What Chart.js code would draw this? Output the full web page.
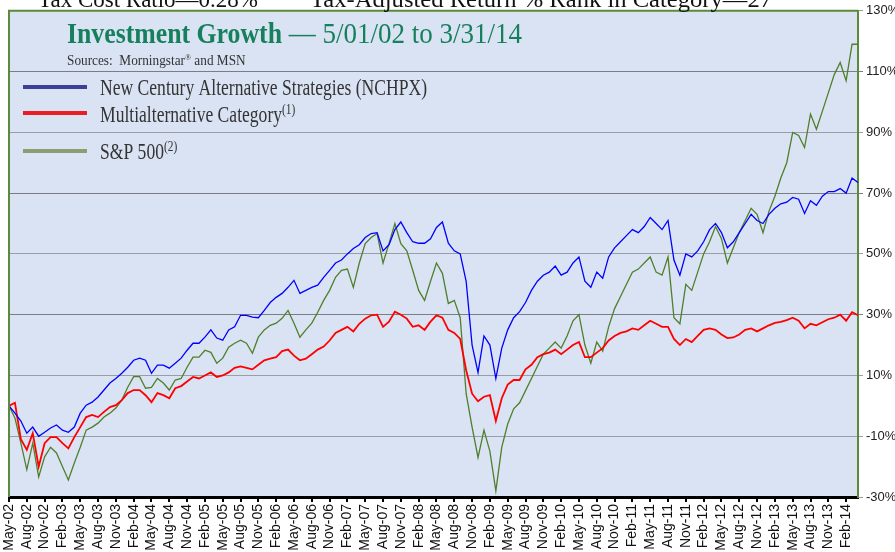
<!DOCTYPE html>
<html>
<head>
<meta charset="utf-8">
<script src="https://cdn.jsdelivr.net/npm/chart.js@4.4.1/dist/chart.umd.min.js"></script>
<style>
html, body { margin: 0; padding: 0; background: #fff; }
</style>
</head>
<body>
<canvas id="myChart" width="895" height="552"></canvas>
<script>
var months = [
  "May-02","Jun-02","Jul-02","Aug-02","Sep-02","Oct-02","Nov-02","Dec-02",
  "Jan-03","Feb-03","Mar-03","Apr-03","May-03","Jun-03","Jul-03","Aug-03","Sep-03","Oct-03","Nov-03","Dec-03",
  "Jan-04","Feb-04","Mar-04","Apr-04","May-04","Jun-04","Jul-04","Aug-04","Sep-04","Oct-04","Nov-04","Dec-04",
  "Jan-05","Feb-05","Mar-05","Apr-05","May-05","Jun-05","Jul-05","Aug-05","Sep-05","Oct-05","Nov-05","Dec-05",
  "Jan-06","Feb-06","Mar-06","Apr-06","May-06","Jun-06","Jul-06","Aug-06","Sep-06","Oct-06","Nov-06","Dec-06",
  "Jan-07","Feb-07","Mar-07","Apr-07","May-07","Jun-07","Jul-07","Aug-07","Sep-07","Oct-07","Nov-07","Dec-07",
  "Jan-08","Feb-08","Mar-08","Apr-08","May-08","Jun-08","Jul-08","Aug-08","Sep-08","Oct-08","Nov-08","Dec-08",
  "Jan-09","Feb-09","Mar-09","Apr-09","May-09","Jun-09","Jul-09","Aug-09","Sep-09","Oct-09","Nov-09","Dec-09",
  "Jan-10","Feb-10","Mar-10","Apr-10","May-10","Jun-10","Jul-10","Aug-10","Sep-10","Oct-10","Nov-10","Dec-10",
  "Jan-11","Feb-11","Mar-11","Apr-11","May-11","Jun-11","Jul-11","Aug-11","Sep-11","Oct-11","Nov-11","Dec-11",
  "Jan-12","Feb-12","Mar-12","Apr-12","May-12","Jun-12","Jul-12","Aug-12","Sep-12","Oct-12","Nov-12","Dec-12",
  "Jan-13","Feb-13","Mar-13","Apr-13","May-13","Jun-13","Jul-13","Aug-13","Sep-13","Oct-13","Nov-13","Dec-13",
  "Jan-14","Feb-14","Mar-14","Apr-14"
];

var seriesNames = ["New Century Alternative Strategies (NCHPX)", "Multialternative Category", "S&P 500"];

// cumulative growth, % since 5/01/02, read at the start of each month
var nchpx = [
  0, -2.4, -5, -9, -7, -10, -8.7, -7.3,
  -6.3, -8, -8.7, -7, -2.4, 0.2, 1.2, 2.9, 5.2, 7.5, 9, 10.7,
  12.7, 15, 15.7, 15, 10.7, 13.4, 13.4, 12.4, 14, 15.7, 18.3, 20.6,
  20.6, 22.6, 25, 22.3, 21.6, 25, 26, 29.8, 29.8, 29.2, 29, 31.4,
  34, 35.7, 37, 39, 41.3, 37, 38, 39, 39.7, 42.3, 44.6, 47,
  48, 50, 51.8, 53, 55.4, 56.7, 57, 51, 53, 58, 60.5, 57,
  54, 53.5, 53.5, 55, 58.7, 60.5, 53.5, 51, 50, 41, 20, 11,
  23, 20, 9, 19, 25, 29, 31, 34, 38, 41, 43, 44,
  46, 43, 44, 47, 49, 41, 39, 44, 42, 49, 52, 54,
  56, 58, 57, 59, 62, 60, 58, 61, 48, 43, 50, 49,
  51, 54, 58, 60, 57, 52, 54, 57, 60, 63, 61, 60,
  63, 65, 66.5, 67, 68.6, 68, 63.3, 67.5, 66, 69, 70.5, 70.5,
  71.5, 70, 75, 73.5
];

var multiAlt = [
  0, 1, -11, -14.5, -9, -20, -12.3, -10.3,
  -10.3, -12.3, -14, -10.3, -7, -3.7, -3, -3.7, -2, -0.4, 0.2, 1.9,
  4.2, 5.2, 5.2, 3.5, 1.2, 4.2, 3.5, 2.5, 5.8, 6.5, 8, 9.5,
  9, 10, 11, 9.5, 10, 11, 12.5, 13, 12.5, 12, 13.5, 15,
  15.5, 16, 18, 18.5, 16.5, 15, 15.5, 17, 18.5, 19.5, 21.5, 24,
  25, 26, 24.5, 27, 28.7, 29.8, 30, 26, 27.7, 31, 30, 28.7,
  26, 26.5, 25, 27.7, 29.8, 29, 25, 24, 22, 11.7, 4, 1.5,
  3, 3.5, -5, 2.5, 7, 8.5, 8.5, 12, 13.5, 16, 17, 17.5,
  18.5, 17, 18.5, 20, 21, 16, 16, 17.5, 19, 21.5, 23, 24,
  24.5, 25.5, 25, 26.5, 28, 27, 26, 26, 22, 20, 22, 21,
  23, 25, 25.5, 25, 23.5, 22.3, 22.5, 23.5, 25, 25.5, 24.5, 25.5,
  26.5, 27.3, 27.6, 28.2, 29, 28, 25.5, 27, 26.5, 27.5, 28.5, 29,
  30, 28, 30.8, 29.8
];

var sp500 = [
  0, -4, -12.3, -21, -12.3, -23.4, -16.8, -13.6,
  -15.5, -20, -24.4, -18.8, -13.6, -8, -7, -5.7, -3.7, -2.4, -0.7, 1.9,
  6.1, 9.6, 9.6, 5.8, 6.1, 9, 7.5, 5.2, 8.5, 9, 12.7, 16,
  16, 18.3, 17.6, 14, 15.7, 19.3, 20.6, 21.6, 20.6, 17.3, 22.6, 25,
  26.5, 27.2, 28.8, 31.4, 27.2, 22.6, 25, 27.2, 30.8, 34.7, 38, 42.3,
  44.6, 45, 39, 47, 53.4, 55.4, 56.7, 47, 53.4, 60, 53.4, 51,
  44.6, 38, 34.7, 41, 47, 43.6, 33.7, 34.7, 29, 4, -7, -17,
  -8, -15, -28, -13.6, -6, -1, 1, 5, 9, 13, 17, 19,
  21, 19, 23, 28, 30, 20, 14, 21, 18, 26, 32, 36,
  40, 44, 45, 47, 49, 44, 43, 49, 29, 27, 40, 38,
  44, 50, 54, 59, 55, 47, 52, 57, 61, 65, 63, 57,
  64, 69, 75, 80, 90, 89, 85, 96, 91, 97, 103, 109,
  113, 107, 119, 119
];

var plotBg = "#dae3f3";
var frameGreen = "#5a8a3a";

function drawParts(ctx, parts, x, y, sx) {
  // parts: [text, font, raise, own x-scale]
  ctx.save();
  ctx.translate(x, y);
  var cx = 0;
  parts.forEach(function (p) {
    var s = p[3] || sx;
    ctx.font = p[1];
    ctx.save();
    ctx.translate(cx, 0);
    ctx.scale(s, 1);
    ctx.fillText(p[0], 0, -(p[2] || 0));
    ctx.restore();
    cx += ctx.measureText(p[0]).width * s;
  });
  ctx.restore();
}

function fitScale(ctx, text, font, target) {
  ctx.font = font;
  return target / ctx.measureText(text).width;
}

var decor = {
  id: "decor",
  beforeDraw: function (chart) {
    var ctx = chart.ctx, a = chart.chartArea;
    ctx.save();
    ctx.fillStyle = "#fff";
    ctx.fillRect(0, 0, chart.width, chart.height);
    ctx.fillStyle = plotBg;
    ctx.fillRect(a.left, a.top, a.right - a.left, a.bottom - a.top);
    ctx.restore();
  },
  afterDraw: function (chart) {
    var ctx = chart.ctx, a = chart.chartArea;
    ctx.save();

    // frame: green top and left
    ctx.strokeStyle = frameGreen;
    ctx.lineWidth = 2;
    ctx.beginPath();
    ctx.moveTo(a.left, a.bottom);
    ctx.lineTo(a.left, a.top);
    ctx.lineTo(a.right, a.top);
    ctx.stroke();

    // clipped header line above the chart
    ctx.fillStyle = "#111";
    ctx.textBaseline = "alphabetic";
    var hf = '24px "Liberation Serif"';
    var t1 = "Tax Cost Ratio\u20140.28%";
    var t2 = "Tax-Adjusted Return % Rank in Category\u201427";
    drawParts(ctx, [[t1, hf]], 38, 7, fitScale(ctx, t1, hf, 220));
    drawParts(ctx, [[t2, hf]], 310, 7, fitScale(ctx, t2, hf, 462));

    // title
    var tb = 'bold 30px "Liberation Serif"';
    var tr = '30px "Liberation Serif"';
    var tail = " \u2014 5/01/02 to 3/31/14";
    var tsx = fitScale(ctx, "Investment Growth", tb, 215);
    var trx = fitScale(ctx, tail, tr, 240);
    ctx.fillStyle = "#16805c";
    drawParts(ctx, [["Investment Growth", tb], [tail, tr, 0, trx]], 67, 43, tsx);

    // sources
    var sf = '15px "Liberation Serif"';
    var ssf = '9px "Liberation Serif"';
    ctx.fillStyle = "#333";
    drawParts(ctx, [["Sources:  Morningstar", sf], ["\u00ae", ssf, 5], [" and MSN", sf]], 67, 65,
      fitScale(ctx, "Sources:  Morningstar", sf, 118));

    // legend
    var lf = '23px "Liberation Serif"';
    var lsf = '15px "Liberation Serif"';
    var lsx = fitScale(ctx, seriesNames[0], lf, 327);
    var items = [
      { color: "#3b3f98", y: 87, base: 95, parts: [[seriesNames[0], lf]] },
      { color: "#ec1c24", y: 113, base: 122, parts: [[seriesNames[1], lf], ["(1)", lsf, 8]] },
      { color: "#8a9e72", y: 151, base: 159, parts: [[seriesNames[2], lf], ["(2)", lsf, 8]] }
    ];
    items.forEach(function (it) {
      ctx.strokeStyle = it.color;
      ctx.lineWidth = 4;
      ctx.beginPath();
      ctx.moveTo(23, it.y);
      ctx.lineTo(87, it.y);
      ctx.stroke();
      ctx.fillStyle = "#333";
      drawParts(ctx, it.parts, 100, it.base, lsx);
    });
    ctx.restore();
  }
};

new Chart("myChart", {
  type: "line",
  data: {
    labels: months,
    datasets: [
      { label: seriesNames[0], data: nchpx, borderColor: "#0000ff", borderWidth: 1.3 },
      { label: seriesNames[1], data: multiAlt, borderColor: "#ff0000", borderWidth: 1.8 },
      { label: seriesNames[2], data: sp500, borderColor: "#4f7f2a", borderWidth: 1.3 }
    ]
  },
  options: {
    responsive: false,
    animation: false,
    layout: { padding: { left: 9, top: 10, right: 0, bottom: 0 } },
    elements: { point: { radius: 0 }, line: { tension: 0 } },
    plugins: { legend: { display: false }, tooltip: { enabled: false } },
    scales: {
      x: {
        offset: false,
        afterFit: function (s) { s.height = 55; },
        grid: { drawOnChartArea: false, drawTicks: true, tickLength: 5, color: "#000", lineWidth: 2 },
        border: { color: "#000", width: 3 },
        ticks: {
          autoSkip: false, maxRotation: 90, minRotation: 90, padding: 2,
          color: "#111", font: { family: "Liberation Sans", size: 14 },
          callback: function (v, i) { return i % 3 === 0 ? this.getLabelForValue(v) : null; }
        }
      },
      y: {
        position: "right",
        min: -30, max: 130,
        afterFit: function (s) { s.width = 37; },
        ticks: {
          stepSize: 20, padding: 3,
          color: "#222", font: { family: "Liberation Sans", size: 13 },
          callback: function (v) { return v + "%"; }
        },
        grid: {
          tickLength: 5, lineWidth: 1,
          color: function (c) { return (c.tick && (c.tick.value === 110 || c.tick.value === 70 || c.tick.value === 30)) ? "#7c7c84" : "#9a9ca6"; }
        },
        border: { color: frameGreen, width: 2 }
      }
    }
  },
  plugins: [decor]
});
</script>
</body>
</html>
